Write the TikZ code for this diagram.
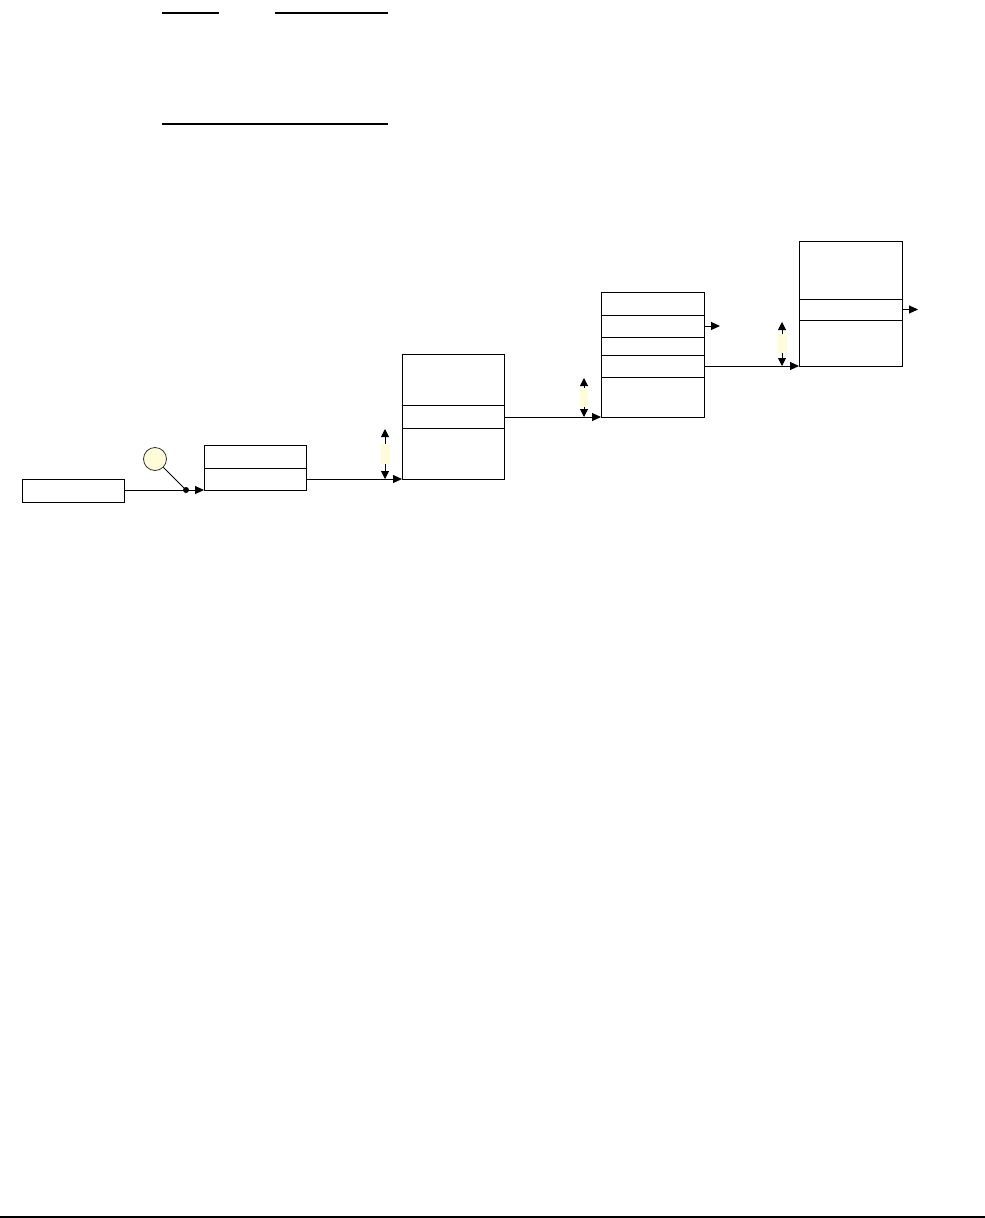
\documentclass[tikz,border=0pt]{standalone}
\usetikzlibrary{arrows.meta}
\definecolor{paleyellow}{RGB}{255,252,218}
\tikzset{
  box/.style={draw=black, line width=1pt, rectangle, inner sep=0pt, outer sep=0pt},
  divider/.style={line width=1pt},
  conn/.style={line width=1pt, -{Triangle[length=9pt,width=8pt]}},
  dbl/.style={line width=1pt, {Triangle[length=8pt,width=8pt]}-{Triangle[length=8pt,width=8pt]}},
  ybar/.style={fill=paleyellow, draw=none},
  rule/.style={line width=1.2pt}
}
\begin{document}
\begin{tikzpicture}[x=1pt,y=-1pt]
\useasboundingbox (0,0) rectangle (985,1218);
% top rules
\draw[rule] (162,13) -- (219,13);
\draw[rule] (275,13) -- (388,13);
\draw[rule] (162,124) -- (388,124);
% bottom rule
\draw[line width=1.5pt] (0,1217) -- (985,1217);

% boxes
\node[box, minimum width=102pt, minimum height=23pt] (b1) at (73,490.5) {};
\node[box, minimum width=102pt, minimum height=45pt] (b2) at (255,467.5) {};
\node[box, minimum width=102pt, minimum height=125pt] (b3) at (453,416.5) {};
\node[box, minimum width=103pt, minimum height=125pt] (b4) at (652.5,354.5) {};
\node[box, minimum width=103pt, minimum height=125pt] (b5) at (850.5,303.5) {};

% dividers
\draw[divider] (b2.west |- 0,468) -- (b2.east |- 0,468);
\draw[divider] (b3.west |- 0,405) -- (b3.east |- 0,405);
\draw[divider] (b3.west |- 0,428) -- (b3.east |- 0,428);
\foreach \yy in {315,337,355,377}
  \draw[divider] (b4.west |- 0,\yy) -- (b4.east |- 0,\yy);
\draw[divider] (b5.west |- 0,299) -- (b5.east |- 0,299);
\draw[divider] (b5.west |- 0,320) -- (b5.east |- 0,320);

% circle and junction dot
\node[circle, draw=black!80, line width=0.8pt, fill=paleyellow, minimum size=23pt, inner sep=0pt] (c1) at (155,459) {};
\coordinate (j1) at (186,490);
\draw[conn] (b1.east |- j1) -- (b2.west |- j1);
\draw[line width=1pt] (c1) -- (j1);
\fill (j1) circle (3pt);

% connectors between boxes
\coordinate (h23) at (0,479);
\coordinate (h34) at (0,417);
\coordinate (h45) at (0,366);
\draw[conn] (b2.east |- h23) -- (b3.west |- h23);
\draw[conn] (b3.east |- h34) -- (b4.west |- h34);
\draw[conn] (b4.east |- h45) -- (b5.west |- h45);
\coordinate (o4) at (720,326);
\coordinate (o5) at (918,309.5);
\draw[conn] (b4.east |- o4) -- (o4);
\draw[conn] (b5.east |- o5) -- (o5);

% double arrows with pale bars
\coordinate (d1a) at (385,429); \coordinate (d1b) at (385,479);
\coordinate (d2a) at (584,378); \coordinate (d2b) at (584,417);
\coordinate (d3a) at (782,322); \coordinate (d3b) at (782,366);
\draw[dbl] (d1a) -- (d1b);
\draw[dbl] (d2a) -- (d2b);
\draw[dbl] (d3a) -- (d3b);
\fill[ybar] (381,444) rectangle (390,464);
\fill[ybar] (580,388) rectangle (588,407);
\fill[ybar] (778,334) rectangle (787,353);
\end{tikzpicture}
\end{document}
